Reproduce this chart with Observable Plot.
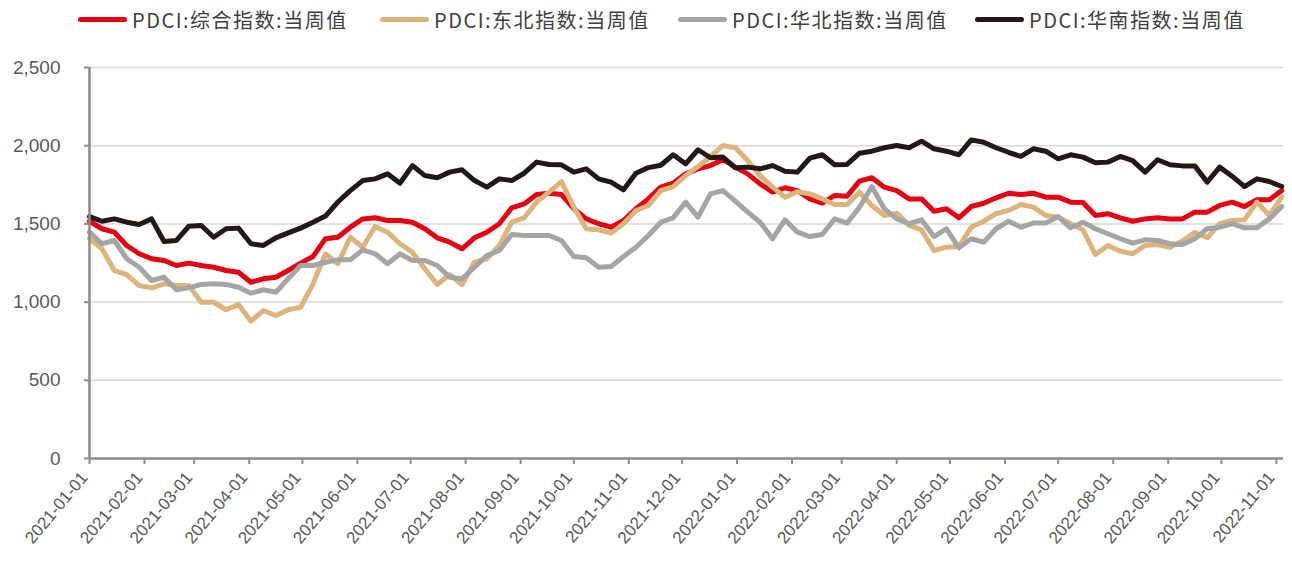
<!DOCTYPE html>
<html><head><meta charset="utf-8">
<script src="https://cdn.jsdelivr.net/npm/d3@7"></script>
<script src="https://cdn.jsdelivr.net/npm/@observablehq/plot@0.6"></script>
<style>
body{margin:0;background:#fff;}
#wrap{position:relative;width:1292px;height:561px;overflow:hidden;background:#fff;}
#legend{position:absolute;left:0;top:0;width:1292px;height:40px;font-family:"Noto Sans CJK SC","Noto Sans",sans-serif;font-size:20px;color:#404040;}
.item{position:absolute;top:7px;height:24px;display:flex;align-items:center;white-space:nowrap;letter-spacing:1.5px;}
.sw{width:49px;height:5px;border-radius:3px;margin-right:5px;}
#chart{position:absolute;left:0;top:40px;}
</style></head>
<body><div id="wrap"><div id="legend"></div><div id="chart"></div></div>
<script>
const startDate = "2021-01-01";
const seriesNames = ["PDCI:综合指数:当周值","PDCI:东北指数:当周值","PDCI:华北指数:当周值","PDCI:华南指数:当周值"];
const seriesColors = ["#e60012","#dcb47c","#a5a5a5","#231815"];
const zonghe = [1517,1469,1447,1362,1309,1277,1266,1234,1249,1234,
1223,1202,1191,1127,1149,1159,1202,1249,1292,1405,
1415,1479,1532,1539,1522,1522,1511,1469,1411,1383,
1341,1411,1447,1501,1603,1628,1688,1696,1688,1597,
1532,1501,1479,1522,1597,1660,1735,1760,1820,1852,
1873,1912,1863,1820,1756,1703,1731,1713,1660,1632,
1682,1677,1773,1795,1735,1713,1660,1660,1581,1597,
1539,1611,1632,1667,1696,1688,1696,1671,1671,1639,
1637,1554,1565,1539,1517,1532,1539,1532,1532,1575,
1575,1618,1639,1611,1654,1654,1713];
const dongbei = [1405,1341,1202,1176,1106,1091,1117,1106,1106,999,
999,951,985,878,946,914,951,967,1117,1309,
1245,1415,1351,1483,1447,1373,1319,1213,1113,1176,
1113,1255,1277,1362,1511,1539,1639,1703,1770,1607,
1469,1462,1441,1501,1586,1618,1713,1739,1809,1867,
1931,2001,1987,1905,1809,1735,1671,1706,1692,1660,
1624,1624,1703,1618,1554,1569,1490,1462,1330,1351,
1355,1479,1517,1565,1586,1624,1607,1554,1543,1501,
1462,1304,1362,1326,1309,1362,1368,1351,1390,1447,
1411,1501,1522,1526,1639,1554,1671];
const huabei = [1447,1373,1394,1277,1223,1138,1159,1079,1091,1113,
1117,1113,1095,1057,1079,1063,1149,1234,1234,1255,
1270,1270,1334,1309,1245,1309,1266,1266,1234,1159,
1149,1223,1298,1330,1432,1426,1426,1426,1394,1292,
1283,1223,1228,1292,1351,1426,1511,1539,1639,1543,
1692,1713,1645,1575,1511,1405,1526,1447,1419,1432,
1532,1505,1607,1739,1597,1532,1501,1526,1419,1469,
1347,1405,1383,1469,1517,1479,1505,1505,1547,1475,
1511,1469,1437,1405,1377,1398,1394,1373,1368,1405,
1469,1479,1501,1475,1475,1532,1611];
const huanan = [1547,1517,1532,1511,1496,1532,1387,1394,1485,1490,
1415,1469,1473,1373,1362,1411,1443,1473,1511,1550,
1640,1713,1777,1788,1820,1760,1873,1809,1795,1831,
1846,1777,1735,1788,1777,1824,1895,1880,1878,1831,
1852,1788,1767,1718,1824,1860,1875,1942,1884,1974,
1923,1927,1859,1863,1852,1873,1837,1831,1920,1942,
1878,1880,1952,1965,1987,2001,1987,2029,1980,1965,
1942,2037,2022,1987,1958,1931,1980,1965,1916,1942,
1927,1891,1895,1931,1905,1831,1910,1878,1871,1871,
1767,1863,1805,1739,1788,1771,1739];
const yTicks = [0,500,1000,1500,2000,2500];

const allSeries = [zonghe, dongbei, huabei, huanan];
const t0 = new Date(startDate + "T00:00:00Z");
const rows = [];
allSeries.forEach((vals, s) => vals.forEach((v, i) => rows.push({date: d3.utcDay.offset(t0, 7*i), value: v, series: seriesNames[s]})));

const xStart = t0, xEnd = new Date("2022-11-05T00:00:00Z");
const monthTicks = d3.utcMonth.range(t0, new Date("2022-11-02T00:00:00Z"));

const legend = document.getElementById("legend");
const legendX = [78, 380, 678, 975];
seriesNames.forEach((n, i) => {
  const it = document.createElement("div");
  it.className = "item"; it.style.left = legendX[i] + "px";
  it.innerHTML = `<span class="sw" style="background:${seriesColors[i]}"></span><span>${n}</span>`;
  legend.appendChild(it);
});

const plot = Plot.plot({
  width: 1292, height: 521,
  marginLeft: 89, marginRight: 9, marginTop: 27, marginBottom: 103,
  style: {fontFamily: "'Liberation Sans', Arial, sans-serif", fontSize: "17px", color: "#595959", background: "#fff", overflow: "visible"},
  x: {type: "utc", domain: [xStart, xEnd]},
  y: {domain: [0, 2500]},
  marks: [
    Plot.gridY(yTicks.slice(1), {stroke: "#d9d9d9", strokeOpacity: 1, strokeWidth: 1.5}),
    ...seriesNames.map((n, i) => Plot.lineY(rows.filter(r => r.series === n), {x: "date", y: "value", stroke: seriesColors[i], strokeWidth: 5, strokeLinejoin: "round"})),
    Plot.axisY({ticks: yTicks, tickSize: 5, tickPadding: 24, tickFormat: d3.format(","), stroke: "#8c8c8c", strokeWidth: 2, fontSize: 19, label: null}),
    Plot.axisX({ticks: monthTicks, tickFormat: () => "", tickSize: 6, stroke: "#8c8c8c", strokeWidth: 2, label: null}),
    Plot.axisX({ticks: monthTicks, tickFormat: d3.utcFormat("%Y-%m-%d"), tickRotate: -50, tickSize: 0, tickPadding: 16, dx: -5, fontSize: 17, label: null}),
    Plot.ruleX([xStart], {stroke: "#8c8c8c", strokeWidth: 2.5}),
    Plot.ruleY([0], {stroke: "#8c8c8c", strokeWidth: 2.5})
  ]
});
document.getElementById("chart").appendChild(plot);
</script></body></html>
